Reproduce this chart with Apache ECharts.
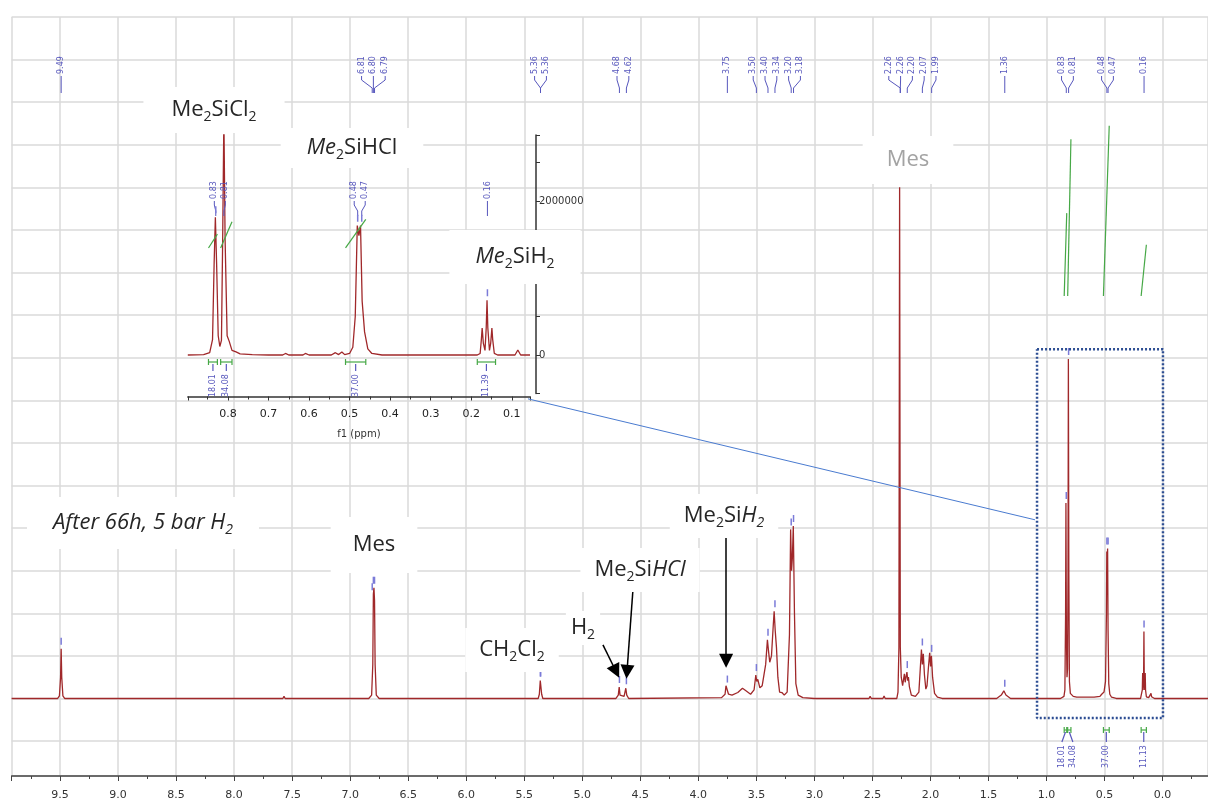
<!DOCTYPE html>
<html>
<head>
<meta charset="utf-8">
<script src="https://cdn.jsdelivr.net/npm/echarts/dist/echarts.min.js"></script>
<style>
  html, body { margin: 0; padding: 0; background: #fff; }
  #chart { width: 1208px; height: 807px; }
</style>
</head>
<body>
<div id="chart"></div>
<script>
const FONT = 'Open Sans';
const RED = '#a0282a';
const BLUE = '#5757bd';
const GREEN = '#46a846';
const GRID = '#dadada';

// full spectrum, [ppm, intensity] (baseline = 0)
const mainSpectrum = [
  [9.917, 0], [9.52, 0], [9.505, 0.06], [9.495, 0.5], [9.49, 1.17], [9.485, 0.5], [9.475, 0.06], [9.46, 0],
  [7.58, 0], [7.57, 0.05], [7.56, 0],
  [6.84, 0], [6.815, 0.08], [6.805, 0.8], [6.80, 2.45], [6.795, 2.6], [6.79, 2.3], [6.785, 0.8], [6.775, 0.08], [6.75, 0],
  [5.38, 0], [5.37, 0.1], [5.362, 0.42], [5.357, 0.42], [5.35, 0.1], [5.34, 0],
  [4.71, 0], [4.69, 0.08], [4.682, 0.27], [4.675, 0.08], [4.64, 0.05], [4.625, 0.24], [4.617, 0.08], [4.60, 0],
  [3.80, 0.02], [3.77, 0.1], [3.762, 0.3], [3.752, 0.28], [3.74, 0.1], [3.71, 0.08], [3.66, 0.14], [3.62, 0.24],
  [3.59, 0.18], [3.55, 0.1], [3.52, 0.2], [3.505, 0.55], [3.497, 0.4], [3.488, 0.45], [3.47, 0.25], [3.45, 0.3],
  [3.42, 0.8], [3.405, 1.38], [3.395, 1.1], [3.385, 0.85], [3.37, 1.0], [3.355, 1.7], [3.347, 2.05], [3.338, 1.6],
  [3.327, 1.2], [3.315, 0.5], [3.30, 0.15], [3.29, 0.12], [3.28, 0.14], [3.26, 0.08], [3.235, 0.15], [3.215, 1.5],
  [3.205, 3.97], [3.197, 3.0], [3.19, 3.3], [3.182, 4.05], [3.172, 2.0], [3.16, 0.35], [3.14, 0.08], [3.10, 0.02], [3.0, 0],
  [2.53, 0], [2.52, 0.05], [2.51, 0], [2.41, 0], [2.40, 0.06], [2.39, 0],
  [2.29, 0], [2.28, 0.15], [2.272, 1.2], [2.266, 12.0], [2.26, 1.2], [2.252, 0.5],
  [2.24, 0.3], [2.232, 0.45], [2.225, 0.58], [2.218, 0.38], [2.21, 0.52], [2.203, 0.62], [2.196, 0.42], [2.19, 0.5],
  [2.182, 0.28], [2.165, 0.08], [2.13, 0.05], [2.10, 0.15], [2.088, 0.7], [2.078, 1.15], [2.07, 0.8], [2.062, 1.05],
  [2.052, 0.55], [2.04, 0.22], [2.03, 0.3], [2.017, 0.75], [2.007, 1.07], [1.999, 0.75], [1.992, 1.0], [1.982, 0.5],
  [1.965, 0.12], [1.94, 0.03], [1.90, 0],
  [1.43, 0], [1.39, 0.08], [1.368, 0.18], [1.35, 0.08], [1.31, 0],
  [0.88, 0], [0.85, 0.05], [0.842, 0.2], [0.836, 2.0], [0.833, 4.59], [0.829, 1.5], [0.824, 0.5], [0.819, 0.7],
  [0.815, 3.0], [0.812, 7.97], [0.808, 3.0], [0.803, 0.4], [0.795, 0.12], [0.77, 0.05], [0.74, 0.03],
  [0.66, 0.03], [0.65, 0.07], [0.64, 0.03], [0.61, 0.03], [0.60, 0.07], [0.59, 0.03], [0.54, 0.05], [0.525, 0.1],
  [0.505, 0.15], [0.492, 0.4], [0.484, 2.0], [0.481, 3.45], [0.477, 3.2], [0.474, 3.52], [0.47, 1.6], [0.464, 0.35],
  [0.455, 0.1], [0.44, 0.03], [0.40, 0],
  [0.19, 0], [0.18, 0.04], [0.175, 0.2], [0.172, 0.6], [0.168, 0.2], [0.164, 0.4], [0.161, 1.57], [0.158, 0.4],
  [0.154, 0.2], [0.15, 0.6], [0.147, 0.2], [0.14, 0.04], [0.12, 0.02], [0.105, 0.04], [0.10, 0.12], [0.095, 0.04],
  [0.07, 0], [-0.391, 0]
];

// zoomed region 0.9 - 0.05 ppm (inset)
const insetSpectrum = [
  [0.899, 0], [0.86, 5000], [0.845, 30000], [0.838, 200000], [0.834, 1200000], [0.831, 1790000], [0.828, 1200000],
  [0.824, 250000], [0.82, 110000], [0.816, 190000], [0.813, 1500000], [0.810, 3100000], [0.807, 1500000],
  [0.802, 250000], [0.797, 180000], [0.79, 60000], [0.78, 40000], [0.77, 15000], [0.74, 5000], [0.70, 0],
  [0.665, 0], [0.658, 20000], [0.65, 0], [0.615, 0], [0.609, 20000], [0.60, 0], [0.545, 0], [0.535, 30000],
  [0.527, 5000], [0.519, 40000], [0.512, 5000], [0.50, 20000], [0.492, 100000], [0.486, 500000], [0.481, 1680000],
  [0.477, 1550000], [0.473, 1680000], [0.469, 700000], [0.463, 300000], [0.455, 80000], [0.445, 20000], [0.42, 0],
  [0.185, 0], [0.178, 20000], [0.175, 200000], [0.173, 350000], [0.170, 150000], [0.166, 60000], [0.163, 350000],
  [0.161, 710000], [0.159, 350000], [0.155, 60000], [0.152, 150000], [0.149, 350000], [0.147, 200000],
  [0.143, 20000], [0.135, 0], [0.092, 0], [0.085, 65000], [0.078, 0], [0.055, 0]
];

// peak picking labels, grouped as they share one label tree
const mainPeakGroups = [
  ['9.49'], ['6.81', '6.80', '6.79'], ['5.36', '5.36'], ['4.68', '4.62'], ['3.75'],
  ['3.50', '3.40', '3.34', '3.20', '3.18'], ['2.26', '2.26', '2.20', '2.07', '1.99'],
  ['1.36'], ['0.83', '0.81'], ['0.48', '0.47'], ['0.16']
];
const insetPeakGroups = [['0.83', '0.81'], ['0.48', '0.47'], ['0.16']];

// integrals
const integralRanges = [[0.848, 0.826], [0.818, 0.79], [0.51, 0.46], [0.185, 0.14]];
const mainIntegralGroups = [['18.01', '34.08'], ['37.00'], ['11.13']];
const insetIntegralGroups = [['18.01', '34.08'], ['37.00'], ['11.39']];

// annotations: arrows in [ppm, intensity]
const arrows = [
  [[3.761, 3.86], [3.761, 0.885]],
  [[4.563, 2.57], [4.615, 0.625]],
  [[4.822, 1.26], [4.709, 0.634]]
];
const zoomBox = [[1.082, 8.2], [-0.003, 8.2], [-0.003, -0.46], [1.082, -0.46], [1.082, 8.2]];
const zoomLink = [[5.468, 7.035], [1.0995, 4.195]];

const notes = [
  { text: 'Me{s|2}SiCl{s|2}', at: [214, 110], pad: [9, 28] },
  { text: '{i|Me}{s|2}SiHCl', at: [352, 148], pad: [6, 26] },
  { text: '{i|Me}{s|2}SiH{s|2}', at: [515, 257], pad: [13, 26] },
  { text: 'Mes', at: [908, 160], pad: [10, 24], color: '#a3a3a3' },
  { text: '{i|After 66h, 5 bar H}{is|2}', at: [143, 523], pad: [12, 26] },
  { text: 'Mes', at: [374, 545], pad: [14, 22] },
  { text: 'CH{s|2}Cl{s|2}', at: [512, 650], pad: [8, 14] },
  { text: 'H{s|2}', at: [583, 628], pad: [3, 5] },
  { text: 'Me{s|2}Si{i|HCl}', at: [640, 570], pad: [8, 14] },
  { text: 'Me{s|2}Si{i|H}{is|2}', at: [724, 516], pad: [8, 14] }
];


function flatten(groups, targets, ranges) {
  const out = [];
  let k = 0;
  groups.forEach(g => {
    const ts = g.map((lab, i) => targets ? targets[k + i] : parseFloat(lab));
    const mean = ts.reduce((a, b) => a + b, 0) / ts.length;
    g.forEach((lab, i) => out.push({
      label: lab, ppm: ts[i], i, n: g.length, mean,
      lo: Math.min(...ts), hi: Math.max(...ts),
      range: ranges ? ranges[k + i] : null
    }));
    k += g.length;
  });
  return out;
}

function peakTop(spec, ppm, tol) {
  let m = 0;
  spec.forEach(p => { if (Math.abs(p[0] - ppm) <= tol && p[1] > m) m = p[1]; });
  return m;
}

function spreadX(api, it, gap) {
  const tx = api.coord([it.ppm, 0])[0];
  const span = Math.abs(api.coord([it.lo, 0])[0] - api.coord([it.hi, 0])[0]);
  if (it.n === 1 || span >= gap * (it.n - 1)) return [tx, tx];
  return [api.coord([it.mean, 0])[0] + (it.i - (it.n - 1) / 2) * gap, tx];
}

function vText(text, x, y, color) {
  return {
    type: 'text', x, y, rotation: Math.PI / 2,
    style: { text, x: 0, y: 0, align: 'left', verticalAlign: 'middle', font: '8px "DejaVu Sans"', fill: color }
  };
}

function labelRenderer(items, geo) {
  return (params, api) => {
    const it = items[params.dataIndex];
    const [lx, tx] = spreadX(api, it, geo.gap);
    return {
      type: 'group',
      children: [
        vText(it.label, lx, geo.textBottom, BLUE),
        {
          type: 'polyline',
          shape: { points: [[lx, geo.lineTop], [lx, geo.bendTop], [tx, geo.bendBottom], [tx, geo.lineBottom]] },
          style: { stroke: BLUE, lineWidth: 1, fill: null }
        }
      ]
    };
  };
}

function markerRenderer(items, spec, tol) {
  return (params, api) => {
    const it = items[params.dataIndex];
    const p = api.coord([it.ppm, peakTop(spec, it.ppm, tol)]);
    return {
      type: 'line',
      shape: { x1: p[0], y1: p[1] - 11, x2: p[0], y2: p[1] - 4 },
      style: { stroke: '#7b7bd8', lineWidth: 1.5 }
    };
  };
}

function integralRenderer(items, geo) {
  return (params, api) => {
    const it = items[params.dataIndex];
    const r = it.range;
    const p0 = api.coord([r[0], geo.base]);
    const p1 = api.coord([r[1], geo.base + parseFloat(it.label) * geo.k]);
    const xa = api.coord([r[0], 0])[0];
    const xb = api.coord([r[1], 0])[0];
    const [lx, xc] = spreadX(api, it, geo.gap);
    const by = geo.by;
    const seg = (x1, y1, x2, y2, c) => ({
      type: 'line', shape: { x1, y1, x2, y2 }, style: { stroke: c, lineWidth: 1.2 }
    });
    return {
      type: 'group',
      children: [
        seg(p0[0], p0[1], p1[0], p1[1], GREEN),
        seg(xa, by, xb, by, GREEN),
        seg(xa, by - 3, xa, by + 3, GREEN),
        seg(xb, by - 3, xb, by + 3, GREEN),
        seg(xc, by + 2, lx, geo.connBottom, BLUE),
        vText(it.label, lx, geo.textBottom, BLUE)
      ]
    };
  };
}

const mainLabels = flatten(mainPeakGroups);
const insetLabels = flatten(insetPeakGroups);
const centers = integralRanges.map(r => (r[0] + r[1]) / 2);
const mainIntegrals = flatten(mainIntegralGroups, centers, integralRanges);
const insetIntegrals = flatten(insetIntegralGroups, centers, integralRanges);

const asPoints = items => items.map(it => [it.ppm, 0]);

const RICH = {
  s: { fontSize: 14, fontFamily: FONT, fill: '#262626', lineHeight: 14, verticalAlign: 'bottom' },
  i: { fontSize: 22, fontFamily: FONT, fontStyle: 'italic', fill: '#262626', lineHeight: 28 },
  is: { fontSize: 14, fontFamily: FONT, fontStyle: 'italic', fill: '#262626', lineHeight: 14, verticalAlign: 'bottom' }
};

const chart = echarts.init(document.getElementById('chart'));

chart.setOption({
  animation: false,
  backgroundColor: '#fff',
  grid: [
    { left: 11.6, right: 0, top: 17, bottom: 31, containLabel: false, outerBoundsMode: 'none' },
    { left: 187.8, top: 135, width: 342.2, height: 258.5, containLabel: false, outerBoundsMode: 'none' }
  ],
  xAxis: [
    {
      type: 'value', gridIndex: 0, inverse: true, min: -0.391, max: 9.917,
      splitNumber: 20, minInterval: 0.5, maxInterval: 0.5,
      axisLine: { show: true, onZero: false, lineStyle: { color: '#444', width: 1.5 } },
      axisTick: { show: true, length: 5, lineStyle: { color: '#444' } },
      minorTick: { show: true, splitNumber: 2, length: 3, lineStyle: { color: '#444' } },
      axisLabel: {
        margin: 14, fontSize: 11, color: '#333', fontFamily: 'DejaVu Sans',
        showMinLabel: false, showMaxLabel: false, formatter: v => v.toFixed(1)
      },
      splitLine: { show: true, lineStyle: { color: GRID, width: 1.5 } },
      name: 'f1 (ppm)', nameLocation: 'middle', nameGap: 31,
      nameTextStyle: { fontSize: 11, color: '#333', fontFamily: 'DejaVu Sans' }
    },
    {
      type: 'value', gridIndex: 1, inverse: true, min: 0.055, max: 0.899,
      splitNumber: 9, minInterval: 0.1, maxInterval: 0.1, offset: 3,
      axisLine: { show: true, onZero: false, lineStyle: { color: '#333', width: 1.5 } },
      axisTick: { show: true, length: 4, lineStyle: { color: '#333' } },
      minorTick: { show: true, splitNumber: 2, length: 3, lineStyle: { color: '#333' } },
      axisLabel: {
        margin: 12, fontSize: 11, color: '#222', fontFamily: 'DejaVu Sans',
        showMinLabel: false, showMaxLabel: false, formatter: v => v.toFixed(1)
      },
      splitLine: { show: false },
      name: 'f1 (ppm)', nameLocation: 'middle', nameGap: 33,
      nameTextStyle: { fontSize: 10, color: '#333', fontFamily: 'DejaVu Sans' }
    }
  ],
  yAxis: [
    {
      type: 'value', gridIndex: 0, min: -1.82, max: 16, splitNumber: 18, minInterval: 1, maxInterval: 1,
      axisLine: { show: false, onZero: false }, axisTick: { show: false }, axisLabel: { show: false },
      splitLine: { show: true, lineStyle: { color: GRID, width: 1.5 } }
    },
    {
      type: 'value', gridIndex: 1, position: 'right', offset: 6,
      min: -500000, max: 2857000, interval: 500000,
      axisLine: { show: true, onZero: false, lineStyle: { color: '#333', width: 1.5 } },
      axisTick: { show: true, length: 4, lineStyle: { color: '#333' } },
      axisLabel: {
        margin: 3, fontSize: 10, color: '#333', fontFamily: 'DejaVu Sans',
        formatter: v => (v === 0 || v === 2000000) ? String(v) : ''
      },
      splitLine: { show: false }
    }
  ],
  graphic: notes.map(n => ({
    type: 'text', x: n.at[0], y: n.at[1], z: 10,
    style: {
      text: n.text, rich: RICH, fontSize: 22, fontFamily: FONT, lineHeight: 28,
      fill: n.color || '#262626', align: 'center', verticalAlign: 'middle',
      backgroundColor: '#fff', padding: n.pad
    }
  })),
  series: [
    {
      type: 'line', xAxisIndex: 0, yAxisIndex: 0, data: mainSpectrum,
      showSymbol: false, symbol: 'none', z: 3,
      lineStyle: { color: RED, width: 1.3 }
    },
    {
      type: 'line', xAxisIndex: 1, yAxisIndex: 1, data: insetSpectrum,
      showSymbol: false, symbol: 'none', z: 3, clip: true,
      lineStyle: { color: RED, width: 1.3 }
    },
    {
      type: 'custom', xAxisIndex: 0, yAxisIndex: 0, data: asPoints(mainLabels), clip: false, z: 4,
      renderItem: labelRenderer(mainLabels, { gap: 11.8, textBottom: 74, lineTop: 76, bendTop: 80, bendBottom: 88, lineBottom: 93 })
    },
    {
      type: 'custom', xAxisIndex: 1, yAxisIndex: 1, data: asPoints(insetLabels), clip: false, z: 4,
      renderItem: labelRenderer(insetLabels, { gap: 11, textBottom: 199, lineTop: 201, bendTop: 205, bendBottom: 211, lineBottom: 216 })
    },
    {
      type: 'custom', xAxisIndex: 0, yAxisIndex: 0, data: asPoints(mainLabels), clip: true, z: 4,
      renderItem: markerRenderer(mainLabels, mainSpectrum, 0.012)
    },
    {
      type: 'custom', xAxisIndex: 1, yAxisIndex: 1, data: asPoints(insetLabels), clip: true, z: 4,
      renderItem: markerRenderer(insetLabels, insetSpectrum, 0.006)
    },
    {
      type: 'custom', xAxisIndex: 0, yAxisIndex: 0, data: asPoints(mainIntegrals), clip: false, z: 4,
      renderItem: integralRenderer(mainIntegrals, { base: 9.45, k: 0.108, by: 730, connBottom: 742, textBottom: 768, gap: 11 })
    },
    {
      type: 'custom', xAxisIndex: 1, yAxisIndex: 1, data: asPoints(insetIntegrals), clip: false, z: 4,
      renderItem: integralRenderer(insetIntegrals, { base: 1390000, k: 10000, by: 362, connBottom: 371, textBottom: 397, gap: 11 })
    },
    {
      type: 'line', xAxisIndex: 0, yAxisIndex: 0, data: zoomBox, showSymbol: false, symbol: 'none',
      clip: false, z: 5, lineStyle: { color: '#2d4e93', width: 2.5, type: [2, 2] }
    },
    {
      type: 'line', xAxisIndex: 0, yAxisIndex: 0, data: zoomLink, showSymbol: false, symbol: 'none',
      clip: false, z: 5, lineStyle: { color: '#4a7bd0', width: 1 }
    },
    {
      type: 'lines', coordinateSystem: 'cartesian2d', xAxisIndex: 0, yAxisIndex: 0, z: 6,
      data: arrows.map(a => ({ coords: a })),
      symbol: ['none', 'triangle'], symbolSize: 14,
      itemStyle: { color: '#000' },
      lineStyle: { color: '#000', width: 1.5, opacity: 1 }
    }
  ]
});
</script>
</body>
</html>
